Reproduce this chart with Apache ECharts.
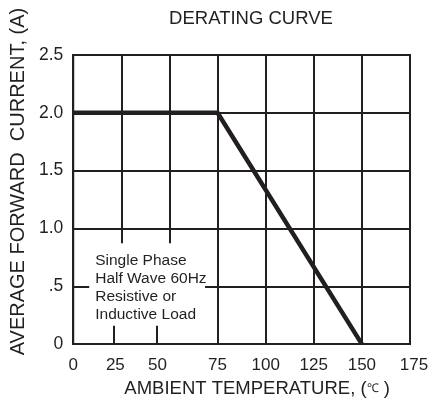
<!DOCTYPE html>
<html>
<head>
<meta charset="utf-8">
<script src="https://cdn.jsdelivr.net/npm/echarts@6/dist/echarts.min.js"></script>
<style>
html,body{margin:0;padding:0;background:#fff;}
#main{width:434px;height:403px;}
</style>
</head>
<body>
<div id="main"></div>
<script>
// ---- data ----
var curveTemp = [0, 75, 150];          // ambient temperature (°C)
var curveCurrent = [2.0, 2.0, 0];      // average forward current (A)
var xTicks = [0, 25, 50, 75, 100, 125, 150, 175];
var yTicks = [0, 0.5, 1.0, 1.5, 2.0, 2.5];
var yTickLabels = ['0', '.5', '1.0', '1.5', '2.0', '2.5'];
var noteLines = ['Single Phase', 'Half Wave 60Hz', 'Resistive or', 'Inductive Load'];
var titleText = 'DERATING CURVE';
var xName = 'AMBIENT TEMPERATURE, ({s|\u2103} )';
var yName = 'AVERAGE FORWARD  CURRENT, (A)';

var INK = '#231f20';
var FONT = 'Liberation Sans, Arial, sans-serif';

var chart = echarts.init(document.getElementById('main'));

var curve = curveTemp.map(function (t, i) { return [t, curveCurrent[i]]; });

// vertical grid lines (25 and 50 stop above the note; short stubs below it)
var vLines = [];
[75, 100, 125, 150].forEach(function (v) {
  vLines.push([{ coord: [v, 0] }, { coord: [v, 2.5] }]);
});
[25, 50].forEach(function (v) {
  vLines.push([{ coord: [v, 0.87] }, { coord: [v, 2.5] }]);
});
[20.8, 43.6].forEach(function (v) {
  vLines.push([{ coord: [v, 0] }, { coord: [v, 0.16] }]);
});

chart.setOption({
  animation: false,
  backgroundColor: '#fff',
  title: {
    text: titleText,
    left: 246, top: 4, textAlign: 'center',
    textStyle: { fontFamily: FONT, fontSize: 18.5, fontWeight: 'normal', color: INK }
  },
  grid: {
    left: 73, right: 24, top: 55, bottom: 56,
    show: true, borderColor: INK, borderWidth: 2, backgroundColor: 'transparent'
  },
  xAxis: {
    type: 'value', min: 0, max: 175, interval: 25,
    axisLine: { show: true, lineStyle: { color: INK, width: 2 } },
    axisTick: { show: false },
    splitLine: { show: false },
    axisLabel: {
      margin: 13, color: INK, fontFamily: FONT, fontSize: 17,
      formatter: function (v) {
        if (v === 25) return '{a|25}';
        if (v === 50) return '{b|50}';
        if (v === 175) return '{c|175}';
        return String(v);
      },
      rich: {
        a: { padding: [0, 12, 0, 0], fontSize: 17, fontFamily: FONT, color: INK },
        b: { padding: [0, 24, 0, 0], fontSize: 17, fontFamily: FONT, color: INK },
        c: { padding: [0, 0, 0, 8], fontSize: 17, fontFamily: FONT, color: INK }
      }
    },
    name: xName, nameLocation: 'middle', nameGap: 33,
    nameTextStyle: {
      color: INK, fontFamily: FONT, fontSize: 18.5, padding: [0, 0, 0, 31],
      rich: { s: { fontSize: 12, fontFamily: FONT, color: INK } }
    }
  },
  yAxis: {
    type: 'value', min: 0, max: 2.5, interval: 0.5,
    axisLine: { show: true, lineStyle: { color: INK, width: 2 } },
    axisTick: { show: false },
    splitLine: { show: true, lineStyle: { color: INK, width: 2 } },
    axisLabel: {
      margin: 10, color: INK, fontFamily: FONT, fontSize: 17.5,
      formatter: function (v) {
        var i = yTicks.indexOf(v);
        return i >= 0 ? yTickLabels[i] : '';
      }
    },
    name: yName, nameLocation: 'middle', nameGap: 45,
    nameTextStyle: { color: INK, fontFamily: FONT, fontSize: 20, padding: [0, 0, 0, 36] }
  },
  series: [{
    type: 'line',
    data: curve,
    symbol: 'none',
    z: 5,
    lineStyle: { color: INK, width: 4.5, cap: 'butt', join: 'miter' },
    markLine: {
      silent: true, symbol: 'none', z: 1,
      label: { show: false },
      lineStyle: { color: INK, width: 2, type: 'solid' },
      data: vLines
    }
  }]
});

// note box anchored to data coordinates
var tl = chart.convertToPixel({ gridIndex: 0 }, [8.3, 0.87]);
var br = chart.convertToPixel({ gridIndex: 0 }, [68.5, 0.16]);
chart.setOption({
  graphic: [{
    type: 'group', z: 50,
    children: [{
      type: 'rect',
      shape: { x: tl[0], y: tl[1], width: br[0] - tl[0], height: br[1] - tl[1] },
      style: { fill: '#fff' }, z: 50
    }, {
      type: 'text',
      x: tl[0] + 6, y: tl[1] + 8, z: 51,
      style: {
        text: noteLines.join('\n'),
        fill: INK, font: '15.5px ' + FONT, lineHeight: 18,
        textAlign: 'left', textVerticalAlign: 'top'
      }
    }]
  }]
});
</script>
</body>
</html>
